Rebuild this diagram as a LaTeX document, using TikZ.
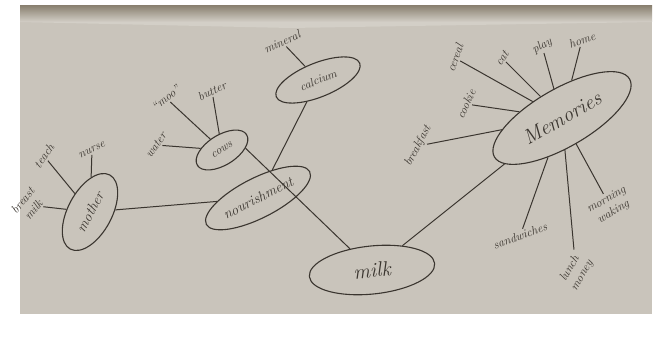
\documentclass[tikz,border=0pt]{standalone}
\usetikzlibrary{shapes.geometric}
\definecolor{paper}{HTML}{C9C4BB}
\definecolor{paperlight}{HTML}{D3CFC7}
\definecolor{ink}{HTML}{3A352F}
\definecolor{topband}{HTML}{8C8373}
\begin{document}
\begin{tikzpicture}[x=1pt,y=-1pt,
  bubble/.style={draw=ink,line width=1.1pt,ellipse,inner sep=0pt,text=ink,font=\Large\itshape},
  word/.style={text=ink,font=\large\itshape,inner sep=1.5pt,align=center},
  link/.style={draw=ink,line width=1pt}]
\useasboundingbox (0,0) rectangle (659,337);
% paper
\fill[white] (0,0) rectangle (659,337);
\fill[paper] (20,6) rectangle (652,314);
\fill[top color=topband,bottom color=paperlight] (20,6) rectangle (652,22);
\fill[paperlight] (20,22) -- (290,28) -- (652,22) -- cycle;

% main bubbles
\node[bubble,minimum width=84pt,minimum height=44pt,rotate=62] (mother) at (90,212) {mother};
\node[bubble,minimum width=116pt,minimum height=40pt,rotate=27] (nourish) at (258,198) {nourishment};
\node[bubble,font=\large\itshape,minimum width=58pt,minimum height=30pt,rotate=32] (cows) at (222,150) {cows};
\node[bubble,font=\large\itshape,minimum width=90pt,minimum height=34pt,rotate=22] (calcium) at (318,80) {calcium};
\node[bubble,font=\huge\itshape,minimum width=126pt,minimum height=48pt,rotate=6] (milk) at (372,270) {milk};
\node[bubble,font=\huge\itshape,minimum width=156pt,minimum height=58pt,rotate=30] (memories) at (562,118) {Memories};

% mother's words
\node[word,rotate=55] (teach) at (44,156) {teach};
\node[word,rotate=25] (nurse) at (92,150) {nurse};
\node[word,rotate=50] (breast) at (28,205) {breast\\milk};
\draw[link] (teach) -- (mother);
\draw[link] (nurse) -- (mother);
\draw[link] (breast) -- (mother);

% cows' words
\node[word,rotate=55] (water) at (156,145) {water};
\node[word,rotate=40] (moo) at (166,98) {``moo''};
\node[word,rotate=25] (butter) at (212,91) {butter};
\draw[link] (water) -- (cows);
\draw[link] (moo) -- (cows);
\draw[link] (butter) -- (cows);

% calcium's word
\node[word,rotate=25] (mineral) at (282,42) {mineral};
\draw[link] (mineral) -- (calcium);

% memories' words
\node[word,rotate=62] (breakfast) at (418,146) {breakfast};
\node[word,rotate=65] (cookie) at (466,104) {cookie};
\node[word,rotate=70] (cereal) at (455,58) {cereal};
\node[word,rotate=55] (cat) at (502,58) {cat};
\node[word,rotate=30] (play) at (542,46) {play};
\node[word,rotate=20] (home) at (582,40) {home};
\node[word,rotate=20] (sandwich) at (520,236) {sandwiches};
\node[word,rotate=60] (money) at (576,272) {lunch\\money};
\node[word,rotate=30] (morning) at (610,206) {morning\\waking};
\foreach \w in {breakfast,cookie,cereal,cat,play,home,sandwich,money,morning}
  \draw[link] (\w) -- (memories);

% main links
\draw[link] (mother) -- (nourish);
\draw[link] (calcium) -- (nourish);
\draw[link] (cows.south east) -- (milk);
\draw[link] (milk) -- (memories);
\end{tikzpicture}
\end{document}
